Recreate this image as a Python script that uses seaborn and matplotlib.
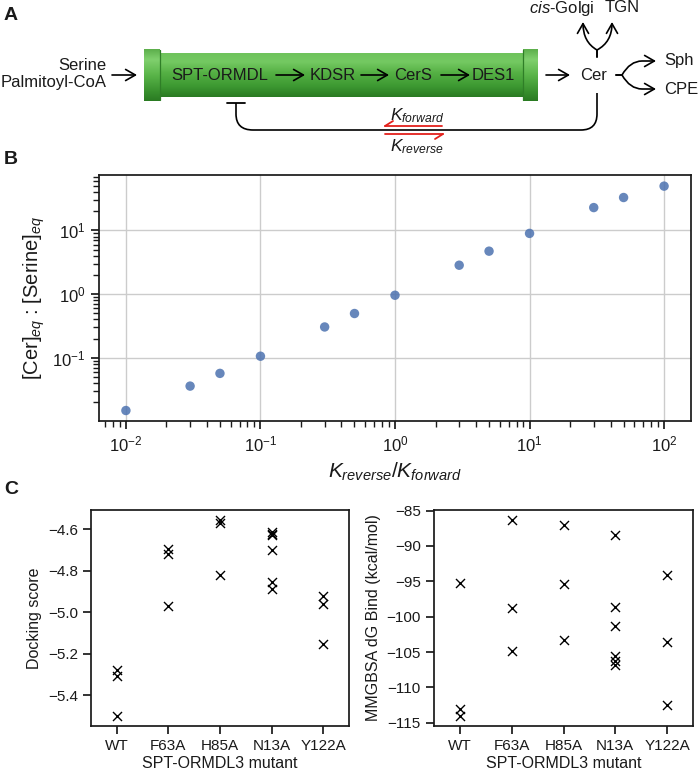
import numpy as np
import pandas as pd
import matplotlib
matplotlib.use('Agg')
import matplotlib.pyplot as plt
import matplotlib.colors as mcolors
import seaborn as sns
from matplotlib.path import Path
from matplotlib.patches import FancyArrowPatch, PathPatch

# ---------------- data ----------------
# Panel B
k_ratio = [0.01, 0.03, 0.05, 0.1, 0.3, 0.5, 1, 3, 5, 10, 30, 50, 100]
cer_serine_ratio = [0.0149, 0.036, 0.057, 0.106, 0.305, 0.496, 0.96,
                    2.84, 4.72, 8.97, 22.8, 32.8, 49.5]

# Panel C
mutants = ['WT', 'F63A', 'H85A', 'N13A', 'Y122A']
docking_WT = [-5.277, -5.307, -5.50]
docking_F63A = [-4.696, -4.72, -4.971]
docking_H85A = [-4.555, -4.568, -4.819]
docking_N13A = [-4.615, -4.622, -4.628, -4.70, -4.856, -4.89]
docking_Y122A = [-4.923, -4.96, -5.152]
mmgbsa_WT = [-95.2, -113.0, -114.06]
mmgbsa_F63A = [-86.3, -98.7, -104.9]
mmgbsa_H85A = [-87.1, -95.4, -103.3]
mmgbsa_N13A = [-88.5, -98.6, -101.3, -105.5, -106.2, -106.8]
mmgbsa_Y122A = [-94.1, -103.6, -112.5]

docking_sets = [docking_WT, docking_F63A, docking_H85A, docking_N13A, docking_Y122A]
mmgbsa_sets = [mmgbsa_WT, mmgbsa_F63A, mmgbsa_H85A, mmgbsa_N13A, mmgbsa_Y122A]

df_dock = pd.DataFrame({
    'mutant': [m for m, v in zip(mutants, docking_sets) for _ in v],
    'score': [x for v in docking_sets for x in v]})
df_mm = pd.DataFrame({
    'mutant': [m for m, v in zip(mutants, mmgbsa_sets) for _ in v],
    'dG': [x for v in mmgbsa_sets for x in v]})

# ---------------- style ----------------
sns.set_theme(style='ticks', context='notebook')
plt.rcParams['font.family'] = ['Liberation Sans', 'DejaVu Sans']
plt.rcParams['mathtext.fontset'] = 'custom'
plt.rcParams['mathtext.rm'] = 'Liberation Sans'
plt.rcParams['mathtext.it'] = 'Liberation Sans:italic'
plt.rcParams['mathtext.bf'] = 'Liberation Sans:bold'
for k in ['text.color', 'axes.labelcolor', 'xtick.color', 'ytick.color', 'axes.edgecolor']:
    plt.rcParams[k] = '#1a1a1a'

W, H = 699, 772
fig = plt.figure(figsize=(W / 100, H / 100), dpi=100)


def fax(l, t, r, b):
    return fig.add_axes([l / W, 1 - b / H, (r - l) / W, (b - t) / H])


# ---------------- panel A (diagram) ----------------
axA = fax(0, 0, 699, 165)
axA.axis('off')


def vgrad(ax, x0, x1, y0, y1, stops, z):
    cmap = mcolors.LinearSegmentedColormap.from_list('g', stops)
    grad = np.linspace(0, 1, 256).reshape(-1, 1)
    ax.imshow(grad, cmap=cmap, extent=(x0, x1, y1, y0), aspect='auto',
              zorder=z, interpolation='bicubic')


body_stops = [(0.0, '#6fc35c'), (0.2, '#74c962'), (0.45, '#55b044'),
              (0.75, '#3d9932'), (1.0, '#2a7a22')]
cap_stops = [(0.0, '#5cae4b'), (0.2, '#80d06e'), (0.5, '#5ab549'),
             (0.8, '#3a922f'), (1.0, '#2a7a22')]
vgrad(axA, 159, 524, 53, 97, body_stops, 1)
vgrad(axA, 144, 160, 49, 101, cap_stops, 2)
vgrad(axA, 523, 538, 49, 101, cap_stops, 2)
for xx in (160, 523):
    axA.plot([xx, xx], [50, 100], color='#2f7e27', lw=0.9, zorder=3)

fs = 12
axA.text(220, 75, 'SPT-ORMDL', ha='center', va='center', fontsize=fs, zorder=4)
axA.text(333, 75, 'KDSR', ha='center', va='center', fontsize=fs, zorder=4)
axA.text(413, 75, 'CerS', ha='center', va='center', fontsize=fs, zorder=4)
axA.text(493, 75, 'DES1', ha='center', va='center', fontsize=fs, zorder=4)
axA.text(106, 66, 'Serine', ha='right', va='center', fontsize=fs)
axA.text(107, 83, 'Palmitoyl-CoA', ha='right', va='center', fontsize=fs)
axA.text(594, 75, 'Cer', ha='center', va='center', fontsize=fs)
axA.text(664, 61, 'Sph', ha='left', va='center', fontsize=fs)
axA.text(664, 89, 'CPE', ha='left', va='center', fontsize=fs)
axA.text(562, 8, r'$\mathit{cis}$-Golgi', ha='center', va='center', fontsize=fs)
axA.text(622, 8, 'TGN', ha='center', va='center', fontsize=fs)

arrow_kw = dict(arrowstyle='->,head_length=0.35,head_width=0.2', lw=1.2,
                color='black', mutation_scale=20, shrinkA=0, shrinkB=0)
for x0, x1 in [(112, 137), (276, 305), (361, 389), (441, 470), (546, 570)]:
    axA.annotate('', xy=(x1, 75), xytext=(x0, 75), arrowprops=arrow_kw, zorder=4)


def curved_arrow(verts, codes):
    p = FancyArrowPatch(path=Path(verts, codes),
                        arrowstyle='->,head_length=0.35,head_width=0.2',
                        mutation_scale=20, lw=1.2, color='black')
    axA.add_patch(p)


M, L, C3 = Path.MOVETO, Path.LINETO, Path.CURVE3
curved_arrow([(616, 75), (622, 75), (630, 61), (642, 61), (656, 61)], [M, L, C3, C3, L])
curved_arrow([(616, 75), (622, 75), (630, 89), (642, 89), (656, 89)], [M, L, C3, C3, L])
curved_arrow([(597, 57), (597, 50), (583, 42), (583, 22)], [M, L, C3, C3])
curved_arrow([(597, 57), (597, 50), (612, 42), (612, 22)], [M, L, C3, C3])

fb = Path([(597, 93), (597, 114), (597, 130), (581, 130), (253, 130),
           (236, 130), (236, 114), (236, 103)],
          [M, L, C3, C3, L, C3, C3, L])
axA.add_patch(PathPatch(fb, fill=False, lw=1.2, color='black'))
axA.plot([227, 245], [103, 103], color='black', lw=1.3)

red = '#e3201b'
axA.plot([385, 442], [126, 126], color=red, lw=1.3)
axA.plot([385, 393], [126, 121], color=red, lw=1.3)
axA.plot([385, 443], [134, 134], color=red, lw=1.3)
axA.plot([443, 435], [134, 139], color=red, lw=1.3)
axA.text(417, 116, r'$K_{forward}$', ha='center', va='center', fontsize=12.5)
axA.text(417, 147, r'$K_{reverse}$', ha='center', va='center', fontsize=12.5)

axA.set_xlim(0, 699)
axA.set_ylim(165, 0)

# ---------------- panel B ----------------
axB = fax(99, 175, 691, 421)
sns.scatterplot(x=k_ratio, y=cer_serine_ratio, ax=axB, s=46, color='#4C72B0',
                alpha=0.85, edgecolor='none', zorder=3)
axB.set_xscale('log')
axB.set_yscale('log')
axB.set_ylim(0.0102, 74)
axB.grid(True, which='major', color='#cccccc', lw=1)
axB.set_axisbelow(True)
axB.set_xlabel(r'$K_{reverse}/K_{forward}$', fontsize=15, labelpad=5)
axB.set_ylabel(r'[Cer]$_{eq}$ : [Serine]$_{eq}$', fontsize=14.5)
axB.tick_params(labelsize=12)

# ---------------- panel C ----------------
axC1 = fax(91, 510, 349, 726)
axC2 = fax(434, 510, 693, 726)
sns.stripplot(data=df_dock, x='mutant', y='score', order=mutants, jitter=False,
              marker='x', color='black', size=6.5, linewidth=1, ax=axC1)
sns.stripplot(data=df_mm, x='mutant', y='dG', order=mutants, jitter=False,
              marker='x', color='black', size=6.5, linewidth=1, ax=axC2)
axC1.set_ylabel('Docking score', fontsize=11.5)
axC2.set_ylabel('MMGBSA dG Bind (kcal/mol)', fontsize=11.5)
for ax in (axC1, axC2):
    ax.set_xlabel('SPT-ORMDL3 mutant', fontsize=11.5, labelpad=2)
    ax.tick_params(labelsize=11)

# panel letters
fig.text(4 / W, 1 - 15 / H, 'A', fontsize=14, weight='bold', va='center')
fig.text(4 / W, 1 - 160 / H, 'B', fontsize=14, weight='bold', va='center')
fig.text(4 / W, 1 - 490 / H, 'C', fontsize=14, weight='bold', va='center')

fig.savefig('out.png', dpi=100)
